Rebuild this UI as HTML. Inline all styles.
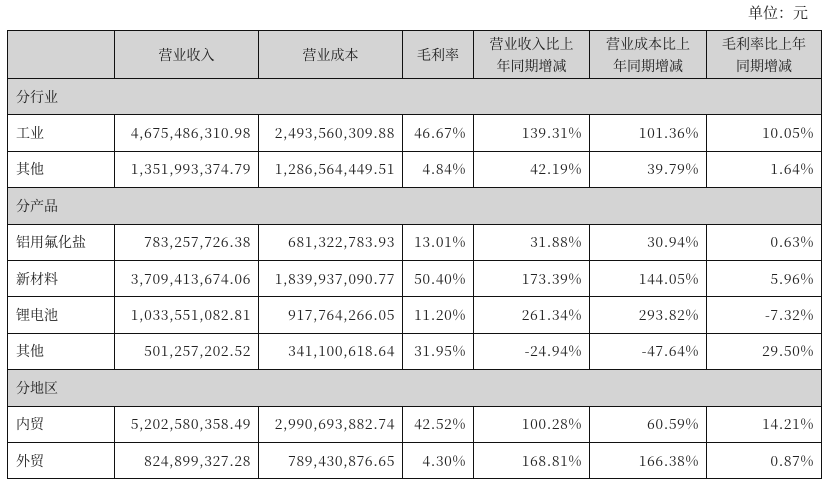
<!DOCTYPE html>
<html><head><meta charset="utf-8"><style>
body{margin:0;width:830px;height:486px;background:#fff;font-family:"Liberation Serif","Noto Serif CJK SC",serif;color:#222;position:relative;overflow:hidden}
.unit{position:absolute;right:22px;top:2px;font-size:15px;font-family:"Noto Serif CJK SC",serif}
table{position:absolute;left:7px;top:30px;border-collapse:collapse;table-layout:fixed;width:814px}
td{border:1.3px solid #111;font-size:14px;padding:0 8px;height:35.4px;white-space:nowrap;font-family:"Noto Serif CJK SC","Liberation Serif",serif}
td.n{text-align:right;padding-right:7px;letter-spacing:0.6px}
tr.h td{height:47px;text-align:center;background:#d4d4d4;line-height:22px}
tr.g td{background:#d4d4d4}
</style></head><body>
<div class="unit">单位：元</div>
<table>
<colgroup><col style="width:107px"><col style="width:144px"><col style="width:144px"><col style="width:71px"><col style="width:116px"><col style="width:117px"><col style="width:115px"></colgroup>
<tr class="h"><td></td><td>营业收入</td><td>营业成本</td><td>毛利率</td><td>营业收入比上<br>年同期增减</td><td>营业成本比上<br>年同期增减</td><td>毛利率比上年<br>同期增减</td></tr>
<tr class="g"><td colspan="7">分行业</td></tr>
<tr><td>工业</td><td class="n">4,675,486,310.98</td><td class="n">2,493,560,309.88</td><td class="n">46.67%</td><td class="n">139.31%</td><td class="n">101.36%</td><td class="n">10.05%</td></tr>
<tr><td>其他</td><td class="n">1,351,993,374.79</td><td class="n">1,286,564,449.51</td><td class="n">4.84%</td><td class="n">42.19%</td><td class="n">39.79%</td><td class="n">1.64%</td></tr>
<tr class="g"><td colspan="7">分产品</td></tr>
<tr><td>铝用氟化盐</td><td class="n">783,257,726.38</td><td class="n">681,322,783.93</td><td class="n">13.01%</td><td class="n">31.88%</td><td class="n">30.94%</td><td class="n">0.63%</td></tr>
<tr><td>新材料</td><td class="n">3,709,413,674.06</td><td class="n">1,839,937,090.77</td><td class="n">50.40%</td><td class="n">173.39%</td><td class="n">144.05%</td><td class="n">5.96%</td></tr>
<tr><td>锂电池</td><td class="n">1,033,551,082.81</td><td class="n">917,764,266.05</td><td class="n">11.20%</td><td class="n">261.34%</td><td class="n">293.82%</td><td class="n">-7.32%</td></tr>
<tr><td>其他</td><td class="n">501,257,202.52</td><td class="n">341,100,618.64</td><td class="n">31.95%</td><td class="n">-24.94%</td><td class="n">-47.64%</td><td class="n">29.50%</td></tr>
<tr class="g"><td colspan="7">分地区</td></tr>
<tr><td>内贸</td><td class="n">5,202,580,358.49</td><td class="n">2,990,693,882.74</td><td class="n">42.52%</td><td class="n">100.28%</td><td class="n">60.59%</td><td class="n">14.21%</td></tr>
<tr><td>外贸</td><td class="n">824,899,327.28</td><td class="n">789,430,876.65</td><td class="n">4.30%</td><td class="n">168.81%</td><td class="n">166.38%</td><td class="n">0.87%</td></tr>
</table>
</body></html>
